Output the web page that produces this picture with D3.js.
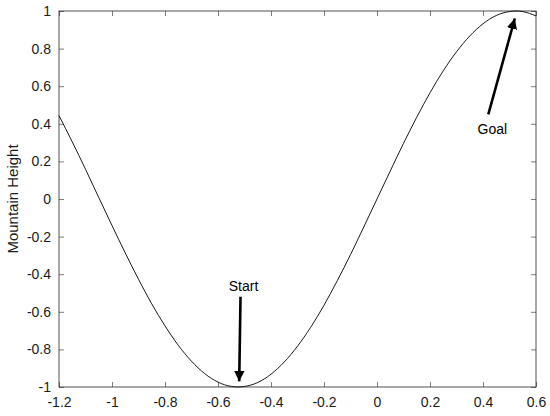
<!DOCTYPE html>
<html>
<head>
<meta charset="utf-8">
<script src="https://cdn.jsdelivr.net/npm/d3@7"></script>
<style>
  body { margin: 0; background: #fff; }
  text { font-family: "Liberation Sans", Helvetica, Arial, sans-serif; }
</style>
</head>
<body>
<svg id="chart" width="550" height="416"></svg>
<script>
// position along the track
var posX = [-1.2, -1.15, -1.1, -1.05, -1.0, -0.95, -0.9, -0.85, -0.8, -0.75, -0.7, -0.65, -0.6,
  -0.55, -0.5, -0.45, -0.4, -0.35, -0.3, -0.25, -0.2, -0.15, -0.1, -0.05, 0,
  0.05, 0.1, 0.15, 0.2, 0.25, 0.3, 0.35, 0.4, 0.45, 0.5, 0.55, 0.6];
// mountain height at each position
var heightY = [0.443, 0.304, 0.158, 0.008, -0.141, -0.287, -0.427, -0.558, -0.675, -0.778, -0.863, -0.929, -0.974,
  -0.997, -0.997, -0.976, -0.932, -0.867, -0.783, -0.682, -0.565, -0.435, -0.296, -0.149, 0,
  0.149, 0.296, 0.435, 0.565, 0.682, 0.783, 0.867, 0.932, 0.976, 0.997, 0.997, 0.974];

var xTicks = [-1.2, -1, -0.8, -0.6, -0.4, -0.2, 0, 0.2, 0.4, 0.6];
var yTicks = [-1, -0.8, -0.6, -0.4, -0.2, 0, 0.2, 0.4, 0.6, 0.8, 1];

// annotations: label, arrow tail (x,y), arrow tip (x,y)
var startNote = { label: 'Start', tail: [-0.515, -0.52], tip: [-0.52, -0.97] };
var goalNote = { label: 'Goal', tail: [0.42, 0.45], tip: [0.52, 0.96] };

var svg = d3.select('#chart'),
  margin = { top: 11, right: 14, bottom: 29, left: 59 },
  w = 550 - margin.left - margin.right,
  h = 416 - margin.top - margin.bottom;

var x = d3.scaleLinear().domain([-1.2, 0.6]).range([0, w]);
var y = d3.scaleLinear().domain([-1, 1]).range([h, 0]);

var g = svg.append('g').attr('transform', 'translate(' + margin.left + ',' + margin.top + ')');

var axisColor = '#262626';

function styleAxis(sel, noLabels) {
  sel.select('.domain').remove();
  sel.selectAll('line').attr('stroke', axisColor).attr('stroke-width', 0.6);
  sel.selectAll('text').attr('fill', '#1a1a1a').style('font-size', '14px');
  if (noLabels) sel.selectAll('text').remove();
}

var fmt = function (d) { return String(+d.toFixed(1)); };

g.append('g').attr('transform', 'translate(0,' + h + ')')
  .call(d3.axisBottom(x).tickValues(xTicks).tickSize(-5).tickPadding(10).tickFormat(fmt))
  .call(styleAxis);
g.append('g')
  .call(d3.axisTop(x).tickValues(xTicks).tickSize(-5))
  .call(styleAxis, true);
g.append('g')
  .call(d3.axisLeft(y).tickValues(yTicks).tickSize(-5).tickPadding(8).tickFormat(fmt))
  .call(styleAxis);
g.append('g').attr('transform', 'translate(' + w + ',0)')
  .call(d3.axisRight(y).tickValues(yTicks).tickSize(-5))
  .call(styleAxis, true);

// box
g.append('rect')
  .attr('width', w).attr('height', h)
  .attr('fill', 'none').attr('stroke', axisColor).attr('stroke-width', 0.8);

var line = d3.line()
  .x(function (d, i) { return x(posX[i]); })
  .y(function (d) { return y(d); })
  .curve(d3.curveNatural);

g.append('path')
  .datum(heightY)
  .attr('d', line)
  .attr('fill', 'none')
  .attr('stroke', '#000')
  .attr('stroke-width', 0.9);

// arrows
svg.append('defs').append('marker')
  .attr('id', 'head')
  .attr('viewBox', '0 0 10 10')
  .attr('refX', 10).attr('refY', 5)
  .attr('markerWidth', 4).attr('markerHeight', 4.5)
  .attr('markerUnits', 'strokeWidth')
  .attr('orient', 'auto')
  .append('path').attr('d', 'M0,0 L10,5 L0,10 Z').attr('fill', '#000');

[startNote, goalNote].forEach(function (n) {
  g.append('line')
    .attr('x1', x(n.tail[0])).attr('y1', y(n.tail[1]))
    .attr('x2', x(n.tip[0])).attr('y2', y(n.tip[1]))
    .attr('stroke', '#000').attr('stroke-width', 2.6)
    .attr('marker-end', 'url(#head)');
});

g.append('text')
  .attr('x', x(startNote.tail[0]) + 3).attr('y', y(startNote.tail[1]) - 6)
  .attr('text-anchor', 'middle').style('font-size', '14px').text(startNote.label);
g.append('text')
  .attr('x', x(goalNote.tail[0]) + 4).attr('y', y(goalNote.tail[1]) + 20)
  .attr('text-anchor', 'middle').style('font-size', '14px').text(goalNote.label);

// y label
svg.append('text')
  .attr('transform', 'translate(18,' + (margin.top + h / 2) + ') rotate(-90)')
  .attr('text-anchor', 'middle')
  .attr('fill', '#1a1a1a')
  .style('font-size', '15px')
  .text('Mountain Height');
</script>
</body>
</html>
